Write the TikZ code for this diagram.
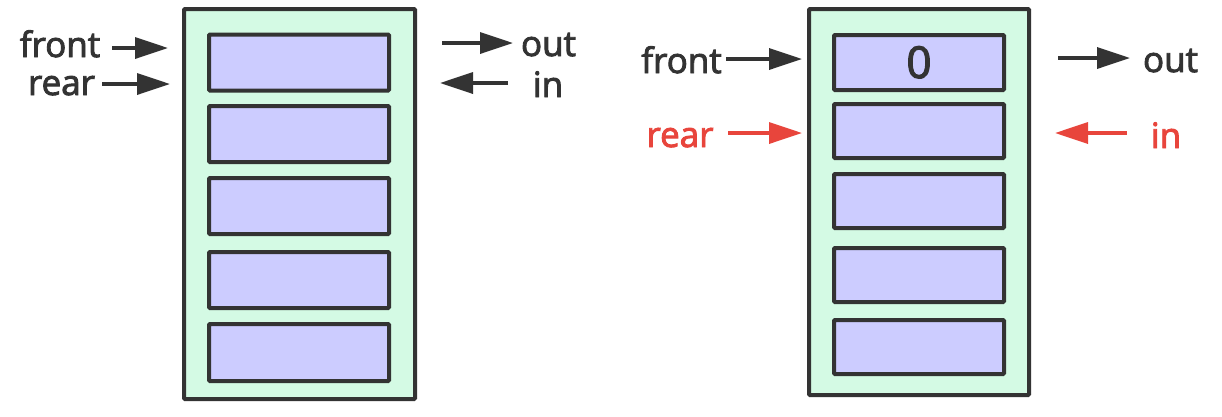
\documentclass[tikz,border=0pt]{standalone}
\usepackage{fontspec}
\setmainfont{Open Sans}
\newfontfamily\medfont{Open Sans}[FakeBold=2.6]
\usetikzlibrary{arrows.meta}
\definecolor{edge}{HTML}{333333}
\definecolor{mint}{HTML}{D4FAE4}
\definecolor{lav}{HTML}{CCCCFF}
\definecolor{redc}{HTML}{E8453C}
\tikzset{
  outerbox/.style={draw=edge, line width=4pt, fill=mint, inner sep=0pt, rounded corners=1pt},
  cellbox/.style={draw=edge, line width=4pt, fill=lav, inner sep=0pt, rounded corners=1pt},
  lbl/.style={inner sep=0pt, anchor=base, font=\medfont\fontsize{35}{42}\selectfont, text=edge},
  redlbl/.style={lbl, text=redc},
  arr/.style={line width=3.5pt, draw=edge, -{Triangle[length=33pt,width=21pt]}},
  redarr/.style={arr, draw=redc, fill=redc}
}
\begin{document}
\begin{tikzpicture}[x=1pt,y=-1pt]
\useasboundingbox (0,0) rectangle (1222,416);
% left structure
\node[outerbox, minimum width=231pt, minimum height=390pt] (LO) at (299.5,204) {};
\node[cellbox, minimum width=180pt, minimum height=56pt] (L1) at (299,62.5) {};
\node[cellbox, minimum width=180pt, minimum height=56pt] (L2) at (299,134) {};
\node[cellbox, minimum width=180pt, minimum height=56pt] (L3) at (299,206) {};
\node[cellbox, minimum width=180pt, minimum height=56pt] (L4) at (299,280) {};
\node[cellbox, minimum width=180pt, minimum height=57pt] (L5) at (299,352.5) {};
% left labels
\node[lbl] (lfront) at (60,57) {front};
\node[lbl] (lrear) at (61.5,95) {rear};
\node[lbl] (lout) at (548.5,56) {out};
\node[lbl] (lin) at (548,97) {in};
\coordinate (lfa) at (112,48);
\coordinate (lfb) at (168,48);
\coordinate (lra) at (102,84);
\coordinate (lrb) at (170,84);
\coordinate (loa) at (442,43);
\coordinate (lob) at (513,43);
\coordinate (lia) at (508,83);
\coordinate (lib) at (440,83);
\draw[arr] (lfa) -- (lfb);
\draw[arr] (lra) -- (lrb);
\draw[arr] (loa) -- (lob);
\draw[arr] (lia) -- (lib);
% right structure
\node[outerbox, minimum width=220pt, minimum height=386pt] (RO) at (919,202) {};
\node[cellbox, minimum width=170pt, minimum height=55pt] (R1) at (919,62.5) {};
\node[lbl, font=\medfont\fontsize{44}{50}\selectfont] (zero) at (919,78) {0};
\node[cellbox, minimum width=170pt, minimum height=54pt] (R2) at (919,131) {};
\node[cellbox, minimum width=170pt, minimum height=54pt] (R3) at (919,201) {};
\node[cellbox, minimum width=170pt, minimum height=54pt] (R4) at (919,275) {};
\node[cellbox, minimum width=170pt, minimum height=54pt] (R5) at (919,347) {};
% right labels
\node[lbl] (rfront) at (681.5,73) {front};
\node[redlbl] (rrear) at (680,147) {rear};
\node[lbl] (rout) at (1170.5,72) {out};
\node[redlbl] (rin) at (1166,148) {in};
\coordinate (rfa) at (726,59);
\coordinate (rfb) at (802,59);
\coordinate (rra) at (728,133);
\coordinate (rrb) at (802,133);
\coordinate (roa) at (1058,58);
\coordinate (rob) at (1130,58);
\coordinate (ria) at (1127,133);
\coordinate (rib) at (1055,133);
\draw[arr] (rfa) -- (rfb);
\draw[redarr] (rra) -- (rrb);
\draw[arr] (roa) -- (rob);
\draw[redarr] (ria) -- (rib);
\end{tikzpicture}
\end{document}
